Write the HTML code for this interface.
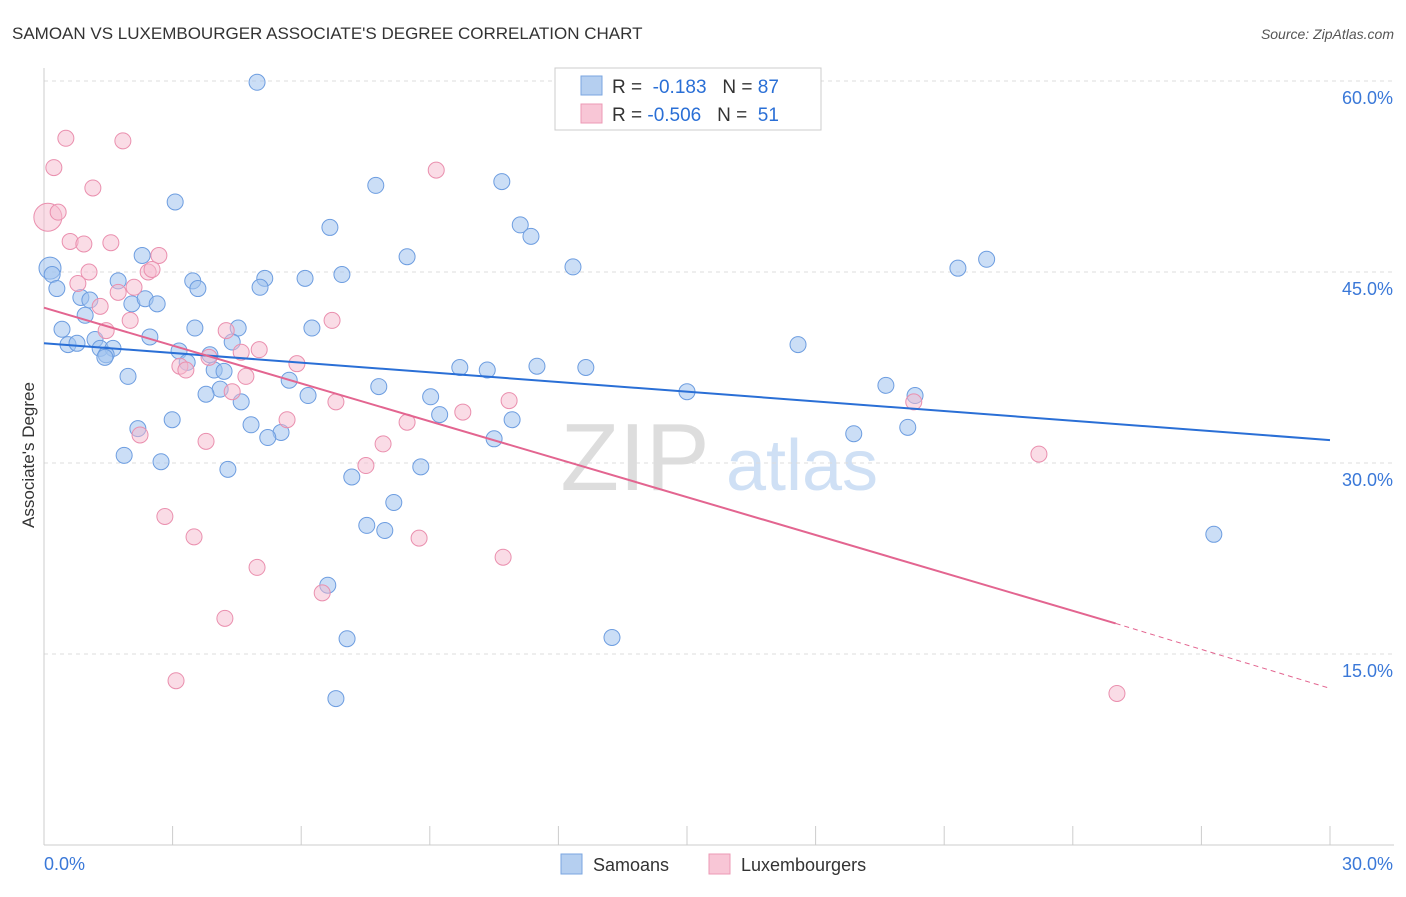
<!DOCTYPE html>
<html><head><meta charset="utf-8"><style>
body{margin:0;background:#fff;font-family:"Liberation Sans",sans-serif;}
svg text{font-family:"Liberation Sans",sans-serif;}
</style></head><body>
<svg id="chart" width="1406" height="892">
<text x="12" y="39" font-size="17" fill="#333">SAMOAN VS LUXEMBOURGER ASSOCIATE'S DEGREE CORRELATION CHART</text>
<text x="1394" y="39" font-size="14" fill="#555" font-style="italic" text-anchor="end">Source: ZipAtlas.com</text>
<g>
<text x="635" y="490" font-size="96" fill="#ddd" font-family="Liberation Serif,serif" text-anchor="middle">ZIP</text>
<text x="802" y="490" font-size="72" fill="#cfe0f5" text-anchor="middle">atlas</text>
</g>
<g id="grid"></g><g id="axes"></g><g id="marks"></g>
<text transform="translate(34,455) rotate(-90)" font-size="17" fill="#333" text-anchor="middle">Associate's Degree</text>
<g>
<rect x="555" y="68" width="266" height="62" fill="#fff" stroke="#ccc"/>
<rect x="581" y="76" width="21" height="19" fill="#b5cff0" stroke="#7aa6e0"/>
<rect x="581" y="104" width="21" height="19" fill="#f8c6d6" stroke="#ec99b5"/>
<text x="612" y="93" font-size="19" fill="#333">R = <tspan fill="#2a6fd6">&#160;-0.183</tspan>&#160;&#160;&#160;N = <tspan fill="#2a6fd6">87</tspan></text>
<text x="612" y="121" font-size="19" fill="#333">R = <tspan fill="#2a6fd6">-0.506</tspan>&#160;&#160;&#160;N = <tspan fill="#2a6fd6">&#160;51</tspan></text>
</g>
<g>
<rect x="561" y="854" width="21" height="20" fill="#b5cff0" stroke="#7aa6e0"/>
<text x="593" y="871" font-size="18" fill="#333">Samoans</text>
<rect x="709" y="854" width="21" height="20" fill="#f8c6d6" stroke="#ec99b5"/>
<text x="741" y="871" font-size="18" fill="#333">Luxembourgers</text>
</g>
</svg>
<script>
const xTicks=[0,3,6,9,12,15,18,21,24,27,30];
const yTicks=[15,30,45,60];
const blueX=[4.97,3.06,7.74,10.68,6.67,11.11,11.36,8.47,12.34,21.32,21.99,0.14,0.19,2.29,1.73,3.47,3.59,5.15,5.04,6.09,6.95,0.30,0.86,1.07,2.05,2.36,2.64,0.96,0.42,3.52,4.53,6.25,2.47,1.19,0.56,0.77,1.31,1.61,1.45,1.42,3.15,3.87,4.39,17.59,3.34,3.97,4.20,1.96,5.72,9.70,10.34,11.50,12.64,7.81,4.11,3.78,6.16,9.02,15.0,19.64,20.32,4.60,9.23,10.92,2.99,2.19,4.83,5.53,5.22,10.50,18.89,20.15,1.87,2.73,4.29,8.79,7.18,8.16,7.53,7.95,27.29,6.62,7.07,13.25,6.81];
const blueY=[59.9,50.5,51.8,52.1,48.5,48.7,47.8,46.2,45.4,45.3,46.0,45.3,44.8,46.3,44.3,44.3,43.7,44.5,43.8,44.5,44.8,43.7,43.0,42.8,42.5,42.9,42.5,41.6,40.5,40.6,40.6,40.6,39.9,39.7,39.3,39.4,39.0,39.0,38.5,38.3,38.8,38.5,39.5,39.3,37.9,37.3,37.2,36.8,36.5,37.5,37.3,37.6,37.5,36.0,35.8,35.4,35.3,35.2,35.6,36.1,35.3,34.8,33.8,33.4,33.4,32.7,33.0,32.4,32.0,31.9,32.3,32.8,30.6,30.1,29.5,29.7,28.9,26.9,25.1,24.7,24.4,20.4,16.2,16.3,11.5];
const pinkX=[0.09,0.33,0.51,1.84,0.23,1.14,9.15,0.61,0.93,1.56,2.68,1.05,2.43,2.52,0.79,1.73,2.10,1.31,2.01,6.72,1.45,4.25,5.02,4.60,3.85,5.90,3.17,3.31,4.71,4.39,6.81,10.85,9.77,5.67,8.47,2.24,3.78,7.91,7.51,20.29,23.21,2.82,3.50,8.75,10.71,4.97,6.49,4.22,3.08,25.03];
const pinkY=[49.3,49.7,55.5,55.3,53.2,51.6,53.0,47.4,47.2,47.3,46.3,45.0,45.0,45.2,44.1,43.4,43.8,42.3,41.2,41.2,40.4,40.4,38.9,38.7,38.3,37.8,37.6,37.3,36.8,35.6,34.8,34.9,34.0,33.4,33.2,32.2,31.7,31.5,29.8,34.8,30.7,25.8,24.2,24.1,22.6,21.8,19.8,17.8,12.9,11.9];
const blueLine=[39.4,31.8];
const pinkLine=[42.2,17.4,12.3];const pinkSolidEnd=25.0;
const sx=v=>44+v*1286/30, sy=v=>845-v*191/15;
const NS="http://www.w3.org/2000/svg";
function mk(p,t,a){const e=document.createElementNS(NS,t);for(const k in a)e.setAttribute(k,a[k]);document.getElementById(p).appendChild(e);return e;}
yTicks.forEach(v=>{
 const l=mk('grid','line',{x1:44,x2:1394,y1:sy(v),y2:sy(v),stroke:'#ddd','stroke-dasharray':'4,4'});
 
 
 const t=mk('grid','text',{x:1393,y:sy(v)+23,'font-size':18,fill:'#3a78d8','text-anchor':'end'});t.textContent=v.toFixed(1)+'%';
 
 
});
const ya=mk('axes','line',{x1:44,x2:44,y1:68,y2:845,stroke:'#ccc'});


const xa=mk('axes','line',{x1:44,x2:1394,y1:845,y2:845,stroke:'#ccc'});


xTicks.forEach(v=>{const l=mk('axes','line',{x1:sx(v),x2:sx(v),y1:826,y2:845,stroke:'#ccc'});
 
 });
[[0,'start'],[30,'end']].forEach(([v,a])=>{const t=mk('axes','text',{x:v?1393:44,y:870,'font-size':18,fill:'#3a78d8','text-anchor':a});t.textContent=v.toFixed(1)+'%';
 
 });
blueX.forEach((x,i)=>{const c=mk('marks','circle',{cx:sx(x),cy:sy(blueY[i]),r:i==11?11:8,fill:'rgba(160,195,238,0.55)',stroke:'#6d9de0','stroke-width':1});
 
 });
pinkX.forEach((x,i)=>{const c=mk('marks','circle',{cx:sx(x),cy:sy(pinkY[i]),r:i==0?14:8,fill:'rgba(246,185,205,0.5)',stroke:'#ea8fae','stroke-width':1});
 
 });
const bl=mk('marks','line',{x1:sx(0),y1:sy(blueLine[0]),x2:sx(30),y2:sy(blueLine[1]),stroke:'#2a6fd6','stroke-width':2});


const pl=mk('marks','line',{x1:sx(0),y1:sy(pinkLine[0]),x2:sx(pinkSolidEnd),y2:sy(pinkLine[1]),stroke:'#e36590','stroke-width':2});


const pd=mk('marks','line',{x1:sx(pinkSolidEnd),y1:sy(pinkLine[1]),x2:sx(30),y2:sy(pinkLine[2]),stroke:'#e36590','stroke-width':1,'stroke-dasharray':'5,4'});


</script>
</body></html>
